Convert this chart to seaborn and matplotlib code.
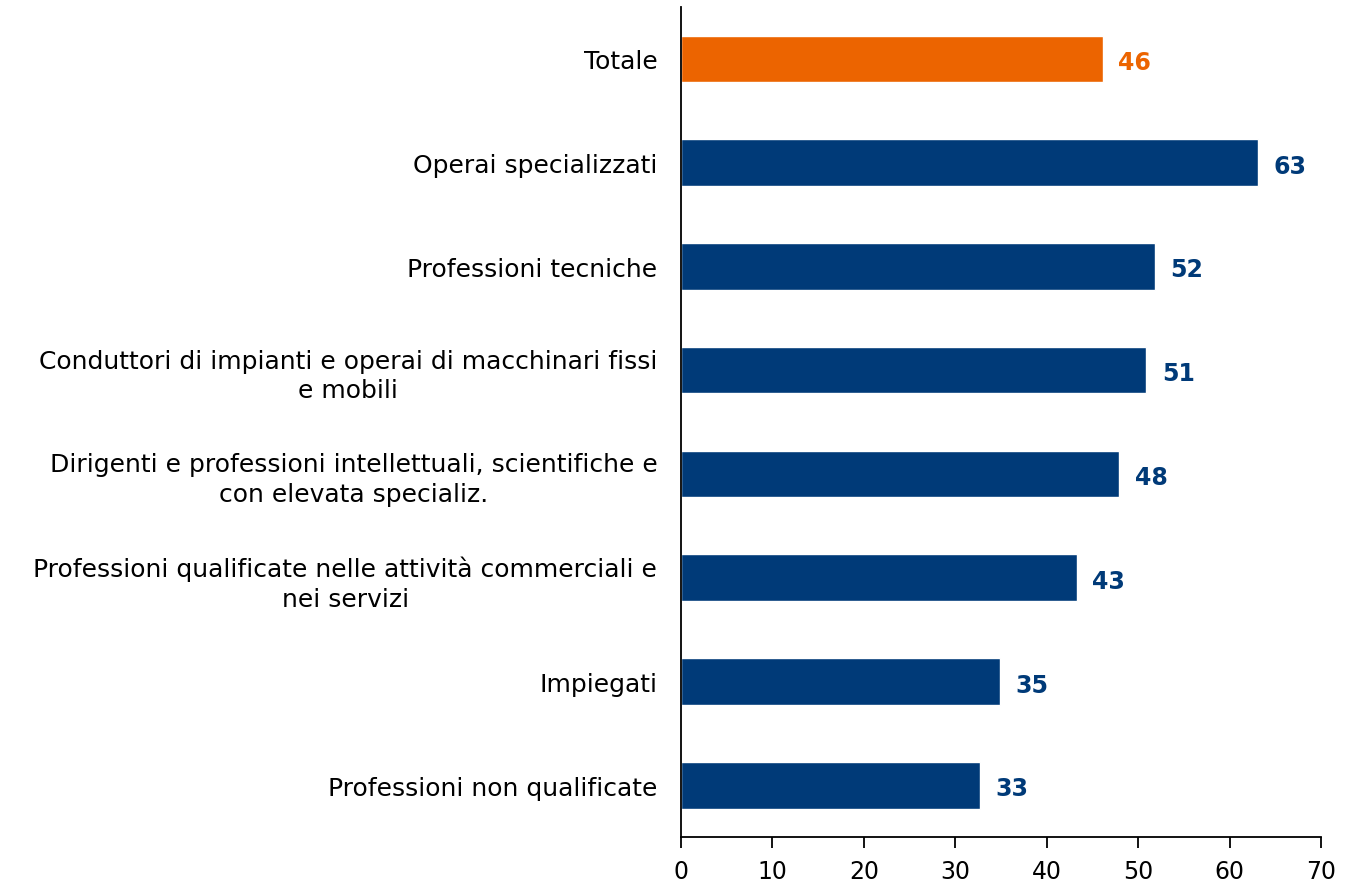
import pandas as pd
import matplotlib
matplotlib.use("Agg")
import matplotlib.pyplot as plt
import seaborn as sns

categories = [
    "Totale",
    "Operai specializzati",
    "Professioni tecniche",
    "Conduttori di impianti e operai di macchinari fissi\ne mobili",
    "Dirigenti e professioni intellettuali, scientifiche e\ncon elevata specializ.",
    "Professioni qualificate nelle attività commerciali e\nnei servizi",
    "Impiegati",
    "Professioni non qualificate",
]
values = [46.1, 63.1, 51.8, 50.9, 47.9, 43.3, 34.9, 32.7]
labels = ["46", "63", "52", "51", "48", "43", "35", "33"]

navy = "#003a78"
orange = "#ec6400"
colors = [orange] + [navy] * (len(categories) - 1)

df = pd.DataFrame({"categoria": categories, "valore": values})

sns.set_style("white")
plt.rcParams['font.family'] = ['DejaVu Sans']

fig = plt.figure(figsize=(13.45, 8.87), dpi=100)
ax = fig.add_axes([0.5063, 0.0552, 0.4759, 0.9358])

sns.barplot(data=df, y="categoria", x="valore", hue="categoria",
            palette=colors, legend=False, width=0.45, ax=ax, saturation=1)

for i, (v, lab) in enumerate(zip(values, labels)):
    ax.text(v + 1.7, i + 0.03, lab, va="center", ha="left", fontsize=17,
            fontweight="bold", color=colors[i])

ax.set_xlim(0, 70)
ax.set_ylim(7.5, -0.5)
ax.set_xticks(range(0, 71, 10))
ax.set_xlabel("")
ax.set_ylabel("")
ax.tick_params(axis="x", labelsize=17, length=8, width=1.3, color="black",
               labelcolor="black", direction="out", bottom=True, pad=8)
ax.tick_params(axis="y", labelsize=18, length=0, pad=17, labelcolor="black")
for lab in ax.get_yticklabels():
    lab.set_multialignment("center")
    lab.set_linespacing(1.3)

for side in ["top", "right"]:
    ax.spines[side].set_visible(False)
for side in ["left", "bottom"]:
    ax.spines[side].set_color("black")
    ax.spines[side].set_linewidth(1.3)

fig.savefig("out.png", dpi=100)
